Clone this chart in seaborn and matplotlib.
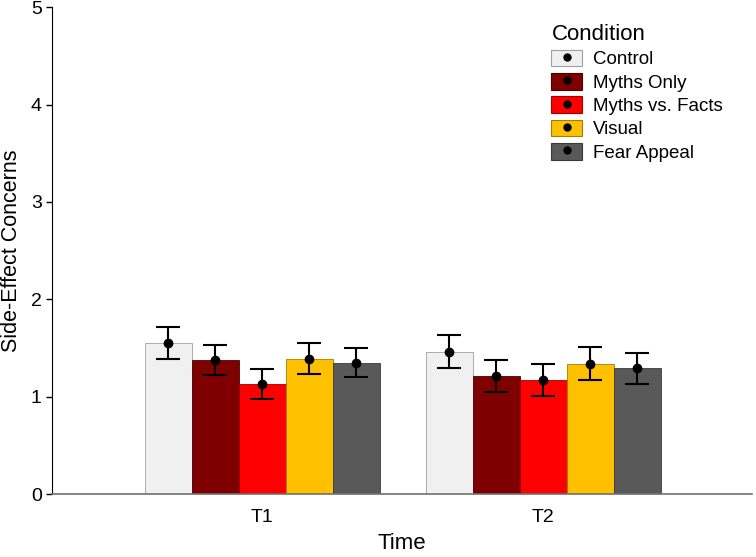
import pandas as pd
import numpy as np
import matplotlib.pyplot as plt
import seaborn as sns
from matplotlib.patches import Patch
from matplotlib.lines import Line2D
from matplotlib.legend_handler import HandlerTuple

times = ["T1", "T2"]
conditions = ["Control", "Myths Only", "Myths vs. Facts", "Visual", "Fear Appeal"]
means_t1 = [1.55, 1.38, 1.13, 1.39, 1.35]
means_t2 = [1.46, 1.21, 1.17, 1.34, 1.29]
err_t1 = [0.165, 0.155, 0.155, 0.16, 0.15]
err_t2 = [0.17, 0.165, 0.165, 0.17, 0.16]
colors = ["#f0f0f0", "#7f0000", "#ff0000", "#ffc000", "#595959"]
edges = ["#a0a0a0", "#4a0000", "#a00000", "#a08000", "#3a3a3a"]

df = pd.DataFrame({
    "Time": np.repeat(times, len(conditions)),
    "Condition": conditions * len(times),
    "mean": means_t1 + means_t2,
    "err": err_t1 + err_t2,
})

sns.set_style("ticks")
plt.rcParams["font.family"] = ["Liberation Sans", "DejaVu Sans"]
plt.rcParams.update({"text.color": "black", "axes.labelcolor": "black",
                     "xtick.color": "black", "ytick.color": "black"})

fig, ax = plt.subplots(figsize=(7.56, 5.57), dpi=100)
sns.barplot(data=df, x="Time", y="mean", hue="Condition", order=times,
            hue_order=conditions, palette=colors, width=0.836, gap=0,
            errorbar=None, ax=ax, legend=False, saturation=1)

# bars come out hue by hue, time inside each hue
for i, cond in enumerate(conditions):
    for j, t in enumerate(times):
        bar = ax.patches[i * len(times) + j]
        bar.set_edgecolor(edges[i])
        bar.set_linewidth(0.6)
        row = df[(df["Time"] == t) & (df["Condition"] == cond)].iloc[0]
        cx = bar.get_x() + bar.get_width() / 2
        ax.errorbar(cx, row["mean"], yerr=row["err"], fmt="o", color="black",
                    ms=6, capsize=8.5, elinewidth=1.5, capthick=1.5)

ax.set_ylim(0, 5)
ax.set_yticks([0, 1, 2, 3, 4, 5])
ax.set_xlim(-0.747, 1.744)
ax.set_xlabel("Time", fontsize=16, labelpad=5)
ax.set_ylabel("Side-Effect Concerns", fontsize=15.5, labelpad=6)
ax.tick_params(axis="y", labelsize=14, length=4, width=1, color="black")
ax.tick_params(axis="x", labelsize=14, length=0, pad=11)
sns.despine(ax=ax)
ax.spines["left"].set_color("black")
ax.spines["bottom"].set_color("#707070")
ax.spines["bottom"].set_linewidth(1.2)

handles = [(Patch(facecolor=c, edgecolor=e, linewidth=0.8),
            Line2D([], [], marker="o", color="black", ls="none", ms=5))
           for c, e in zip(colors, edges)]
leg = ax.legend(handles, conditions, title="Condition", loc="upper left",
                bbox_to_anchor=(0.689, 1.0), frameon=False, fontsize=13.5,
                title_fontsize=16, handler_map={tuple: HandlerTuple(ndivide=1)},
                handlelength=1.65, handleheight=1.0, labelspacing=0.24,
                handletextpad=0.55, borderaxespad=0.5)
leg._legend_box.align = "left"

fig.subplots_adjust(left=0.069, right=0.995, top=0.987, bottom=0.113)
fig.savefig("out.png", dpi=100)
